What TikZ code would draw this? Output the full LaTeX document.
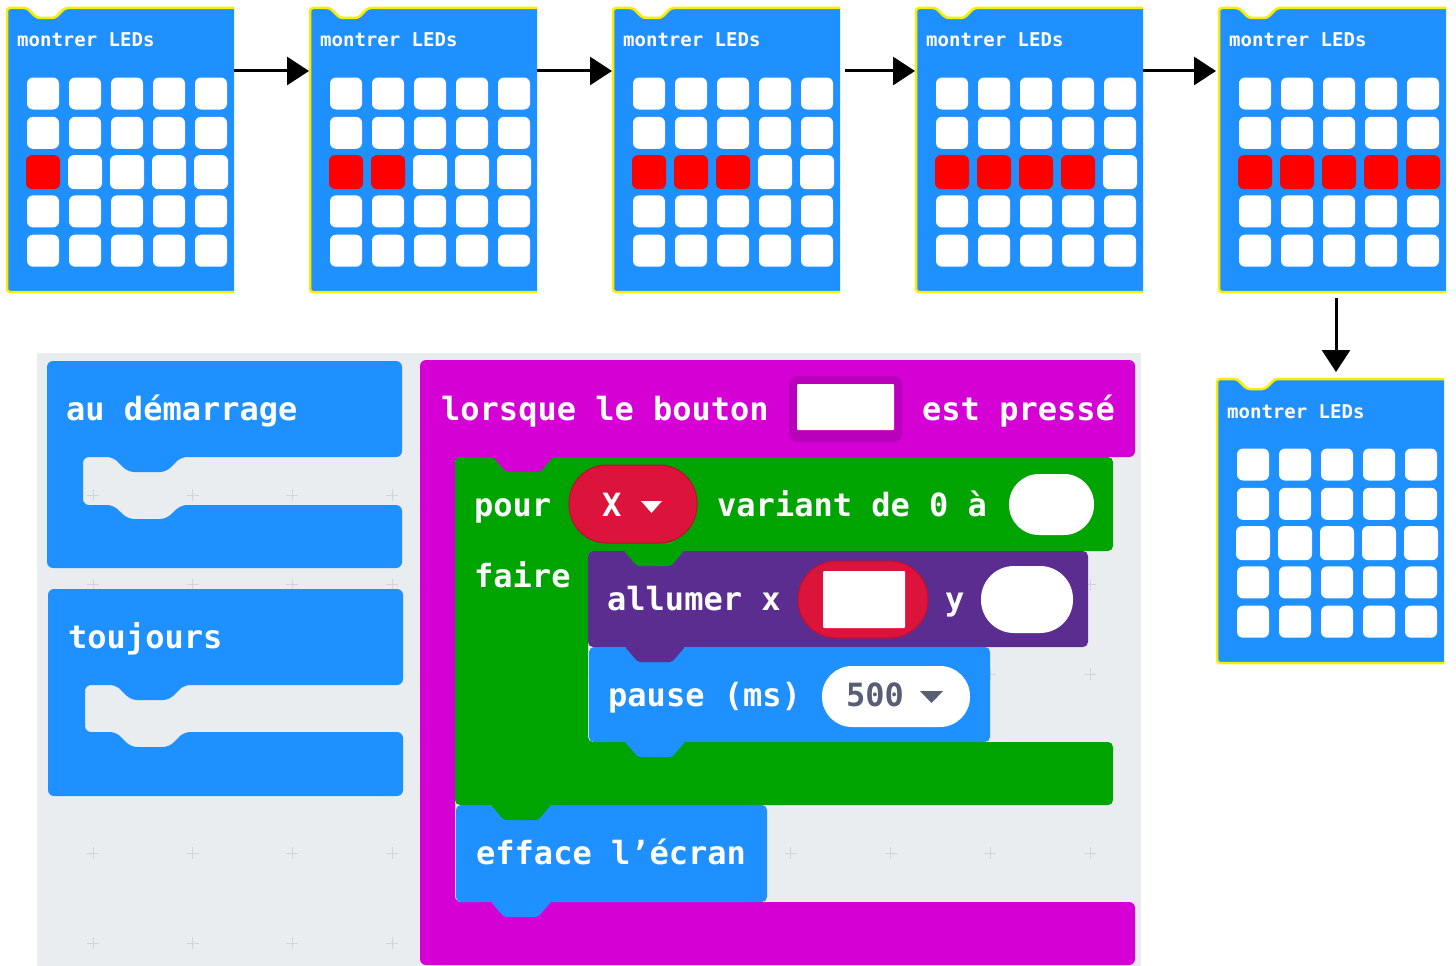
\documentclass[tikz,border=0pt]{standalone}
\usepackage{fontspec}
\usetikzlibrary{arrows.meta}
\newfontfamily\mcfont{DejaVu Sans Mono}
\definecolor{mcblue}{RGB}{30,144,255}
\definecolor{ledyel}{RGB}{250,238,0}
\definecolor{ledred}{RGB}{255,0,0}
\definecolor{bggray}{RGB}{233,237,240}
\definecolor{plusgray}{RGB}{208,213,218}
\definecolor{mcmag}{RGB}{212,0,212}
\definecolor{mcmagdark}{RGB}{186,0,186}
\definecolor{mcgreen}{RGB}{0,164,0}
\definecolor{mcpurple}{RGB}{92,45,145}
\definecolor{mcred}{RGB}{220,20,60}
\definecolor{mcreddark}{RGB}{185,15,50}
\definecolor{darktxt}{RGB}{87,94,117}
\tikzset{
  ledbox/.style={anchor=north west, minimum width=227pt, minimum height=284pt, inner sep=0pt, outer sep=0pt},
  blocktxt/.style={font=\mcfont\bfseries\fontsize{32}{36}\selectfont, text=white, anchor=base west, inner sep=0pt},
  ledtxt/.style={font=\mcfont\bfseries\fontsize{19}{22}\selectfont, text=white, anchor=base west, inner sep=0pt},
  flow/.style={line width=3pt, -{Triangle[length=22pt,width=28pt]}},
  mcshape/.style={rounded corners=5pt},
  plusmark/.style={draw=plusgray, line width=1pt},
}
\newcommand\tabat[3]{%
  \fill[#1, rounded corners=2pt] (#2,#3-3) -- (#2,#3) -- (#2+13,#3+15) -- (#2+47,#3+15) -- (#2+60,#3) -- (#2+60,#3-3) -- cycle;}
\newcommand\ledblock[4]{%
  \node[ledbox] (#1) at (#2,#3) {};
  \fill[mcblue] (#2+227,#3) [rounded corners=3pt] -- (#2+58,#3) -- (#2+48,#3+10) -- (#2+30,#3+10) -- (#2+20,#3) -- (#2,#3) -- (#2,#3+284) [sharp corners] -- (#2+227,#3+284) -- cycle;
  \draw[ledyel, line width=2.5pt] (#2+227,#3) [rounded corners=3pt] -- (#2+58,#3) -- (#2+48,#3+10) -- (#2+30,#3+10) -- (#2+20,#3) -- (#2,#3) -- (#2,#3+284) [sharp corners] -- (#2+227,#3+284);
  \node[ledtxt] (#1t) at (#2+10,#3+39) {montrer LEDs};
  \foreach \i in {0,...,4}{\foreach \j in {0,...,4}{%
    \pgfmathtruncatemacro\isred{(\j==2)&&(\i<#4)}%
    \pgfmathsetmacro\hs{\j==2 ? 17 : 16}%
    \ifnum\isred=1 \def\ledcol{ledred}\else\def\ledcol{white}\fi
    \fill[\ledcol, rounded corners=6pt] (#2+36+42*\i-\hs, #3+85.5+39.3*\j-\hs) rectangle (#2+36+42*\i+\hs, #3+85.5+39.3*\j+\hs);
  }}%
}
\begin{document}
\begin{tikzpicture}[x=1pt,y=-1pt]
\useasboundingbox (0,0) rectangle (1456,966);
% ---- LED sequence
\ledblock{b1}{7}{8}{1}
\ledblock{b2}{310}{8}{2}
\ledblock{b3}{613}{8}{3}
\ledblock{b4}{916}{8}{4}
\ledblock{b5}{1219}{8}{5}
\ledblock{b6}{1217}{379}{0}
\draw[flow, shorten >=1pt] ([yshift=-63pt]b1.north east) -- ([yshift=-63pt]b2.north west);
\draw[flow, shorten >=1pt] ([yshift=-63pt]b2.north east) -- ([yshift=-63pt]b3.north west);
\draw[flow, shorten <=5pt, shorten >=1pt] ([yshift=-63pt]b3.north east) -- ([yshift=-63pt]b4.north west);
\draw[flow, shorten >=3pt] ([yshift=-63pt]b4.north east) -- ([yshift=-63pt]b5.north west);
\draw[flow, shorten <=6pt, shorten >=7pt] ([xshift=3.5pt]b5.south) -- ([xshift=5.5pt]b6.north);
% ---- workspace
\fill[bggray] (37,353) rectangle (1141,966);
\foreach \k in {0,...,10}{\foreach \m in {0,...,5}{%
  \draw[plusmark] (93+99.7*\k-6, 495+89.6*\m) -- (93+99.7*\k+6, 495+89.6*\m)
                  (93+99.7*\k, 495+89.6*\m-6) -- (93+99.7*\k, 495+89.6*\m+6);
}}
% au demarrage
\fill[mcblue, rounded corners=6pt] (47,361) -- (402,361) -- (402,457) -- (181,457) -- (166,472) -- (128,472) -- (113,457) -- (83,457) -- (83,505) -- (113,505) -- (128,519) -- (166,519) -- (181,505) -- (402,505) -- (402,568) -- (47,568) -- cycle;
\node[blocktxt] (tdem) at (66,420) {au démarrage};
% toujours
\fill[mcblue, rounded corners=6pt] (48,589) -- (403,589) -- (403,685) -- (184,685) -- (169,700) -- (131,700) -- (116,685) -- (85,685) -- (85,732) -- (116,732) -- (131,747) -- (169,747) -- (184,732) -- (403,732) -- (403,796) -- (48,796) -- cycle;
\node[blocktxt] (ttou) at (68,648) {toujours};
% event block
\fill[mcmag, rounded corners=6pt] (420,360) -- (1135,360) -- (1135,457) -- (455,457) -- (455,902) -- (1135,902) -- (1135,965) -- (420,965) -- cycle;
\node[blocktxt] (tlor) at (441,420) {lorsque le bouton};
\fill[mcmagdark, rounded corners=8pt] (789,376) rectangle (902,442);
\fill[white, rounded corners=1pt] (797,384) rectangle (894,430);
\node[blocktxt] (test) at (922,420) {est pressé};
% for loop
\fill[mcgreen, rounded corners=5pt] (455,457) -- (1113,457) -- (1113,551) -- (588,551) -- (588,742) -- (1113,742) -- (1113,805) -- (455,805) -- cycle;
\tabat{mcmag}{493}{457}
\node[blocktxt] (tpour) at (474,516) {pour};
\fill[mcred, draw=mcreddark, line width=1pt, rounded corners=38pt] (569,465) rectangle (697,543);
\node[blocktxt] (tX) at (602,516) {X};
\fill[white] (641,501) -- (662,501) -- (651.5,513) -- cycle;
\node[blocktxt] (tvar) at (717,516) {variant de 0 à};
\fill[white, rounded corners=30pt] (1009,474) rectangle (1094,535);
\node[blocktxt] (tfaire) at (474,587) {faire};
% plot
\fill[mcpurple, mcshape] (588,551) rectangle (1088,647);
\tabat{mcgreen}{624}{551}
\node[blocktxt] (tall) at (607,610) {allumer x};
\fill[mcred, draw=mcreddark, line width=1pt, rounded corners=38pt] (798,561) rectangle (928,638);
\fill[white, rounded corners=1pt] (823,571) rectangle (905,628);
\node[blocktxt] (ty) at (945,610) {y};
\fill[white, rounded corners=33pt] (981,566) rectangle (1073,633);
% pause
\fill[mcblue, mcshape] (589,647) rectangle (990,742);
\tabat{mcpurple}{625}{647}
\tabat{mcblue}{625}{742}
\node[blocktxt] (tpause) at (608,706) {pause (ms)};
\fill[white, rounded corners=30pt] (822,666) rectangle (970,727);
\node[blocktxt, text=darktxt] (t500) at (846,706) {500};
\fill[darktxt] (920,691) -- (943,691) -- (931.5,703) -- cycle;
% clear screen
\fill[mcblue, mcshape] (456,805) rectangle (767,902);
\tabat{mcgreen}{491}{805}
\tabat{mcblue}{491}{902}
\node[blocktxt] (teff) at (476,864) {efface l’écran};
\end{tikzpicture}
\end{document}
